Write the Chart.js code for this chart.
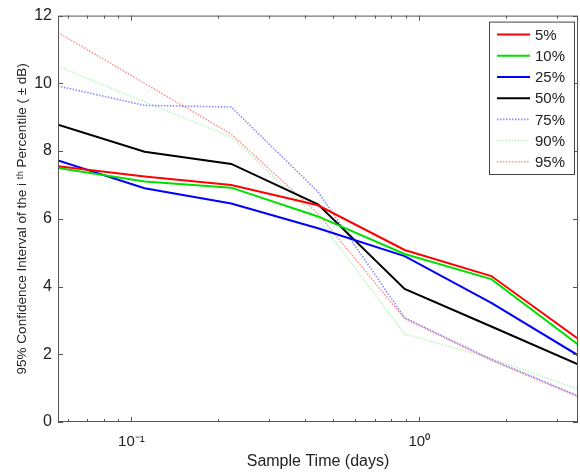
<!DOCTYPE html>
<html>
<head>
<meta charset="utf-8">
<script src="https://cdn.jsdelivr.net/npm/chart.js@4.4.0/dist/chart.umd.min.js"></script>
<style>
  html, body { margin: 0; padding: 0; background: #fff; }
</style>
</head>
<body>
<canvas id="myChart" width="580" height="474"></canvas>
<script>
// sample times in days (1/18 day doubling)
const sampleTimes = [0.0556, 0.1111, 0.2222, 0.4444, 0.8889, 1.7778, 3.5556];

const p5  = [7.55, 7.25, 7.00, 6.40, 5.08, 4.31, 2.46];
const p10 = [7.50, 7.10, 6.92, 6.07, 4.96, 4.22, 2.29];
const p25 = [7.72, 6.90, 6.45, 5.72, 4.90, 3.52, 1.97];
const p50 = [8.78, 7.98, 7.62, 6.43, 3.93, 2.82, 1.70];
const p75 = [9.92, 9.35, 9.30, 6.80, 3.08, 1.85, 0.77];
const p90 = [10.50, 9.45, 8.42, 6.00, 2.60, 1.88, 0.97];
const p95 = [11.50, 10.00, 8.50, 6.15, 3.05, 1.82, 0.75];

const seriesLabels = ['5%', '10%', '25%', '50%', '75%', '90%', '95%'];
const xTickValues = [0.06, 0.07, 0.08, 0.09, 0.1, 0.2, 0.3, 0.4, 0.5, 0.6, 0.7, 0.8, 0.9, 1, 2, 3];
const yTickValues = [0, 2, 4, 6, 8, 10, 12];

const font = "'Liberation Sans', Arial, Helvetica, sans-serif";

function pts(arr) {
  return arr.map((v, i) => ({ x: sampleTimes[i], y: v }));
}

function solid(label, arr, color) {
  return { label: label, data: pts(arr), borderColor: color, borderWidth: 2,
           pointRadius: 0, fill: false, tension: 0 };
}
function dotted(label, arr, color) {
  return { label: label, data: pts(arr), borderColor: color, borderWidth: 1.6,
           borderDash: [1.5, 1.5], pointRadius: 0, fill: false, tension: 0 };
}

const datasets = [
  solid(seriesLabels[0], p5, '#ff0000'),
  solid(seriesLabels[1], p10, '#00e000'),
  solid(seriesLabels[2], p25, '#0000ff'),
  solid(seriesLabels[3], p50, '#000000'),
  dotted(seriesLabels[4], p75, 'rgba(60,60,255,0.6)'),
  dotted(seriesLabels[5], p90, 'rgba(60,230,60,0.35)'),
  dotted(seriesLabels[6], p95, 'rgba(255,60,60,0.55)')
];

// box around the axes with inward ticks, matlab style
const frame = {
  id: 'frame',
  afterDatasetsDraw(chart) {
    const ctx = chart.ctx;
    const a = chart.chartArea;
    const xs = chart.scales.x, ys = chart.scales.y;
    ctx.save();
    ctx.strokeStyle = '#555';
    ctx.lineWidth = 1;
    ctx.strokeRect(a.left + 0.5, a.top + 0.5, a.right - a.left - 1, a.bottom - a.top - 1);
    ctx.beginPath();
    xs.ticks.forEach(t => {
      const px = Math.round(xs.getPixelForValue(t.value)) + 0.5;
      const major = Math.abs(Math.log10(t.value) - Math.round(Math.log10(t.value))) < 1e-6;
      const len = major ? 5 : 3;
      ctx.moveTo(px, a.bottom); ctx.lineTo(px, a.bottom - len);
      ctx.moveTo(px, a.top); ctx.lineTo(px, a.top + len);
    });
    ys.ticks.forEach(t => {
      const py = Math.round(ys.getPixelForValue(t.value)) + 0.5;
      ctx.moveTo(a.left, py); ctx.lineTo(a.left + 5, py);
      ctx.moveTo(a.right, py); ctx.lineTo(a.right - 5, py);
    });
    ctx.stroke();
    ctx.restore();
  },
  afterDraw(chart) {
    const ctx = chart.ctx;
    const a = chart.chartArea;
    const w = 85, rowH = 21.2;
    const boxL = a.right - 89, boxT = a.top + 6;
    const h = rowH * chart.data.datasets.length + 4;
    ctx.save();
    ctx.fillStyle = '#fff';
    ctx.fillRect(boxL, boxT, w, h);
    ctx.strokeStyle = '#444';
    ctx.lineWidth = 1;
    ctx.strokeRect(boxL + 0.5, boxT + 0.5, w, h);
    ctx.font = '15px ' + font;
    ctx.textBaseline = 'middle';
    chart.data.datasets.forEach((ds, i) => {
      const y = boxT + 13 + i * rowH;
      ctx.beginPath();
      ctx.strokeStyle = ds.borderColor;
      ctx.lineWidth = ds.borderWidth;
      ctx.setLineDash(ds.borderDash || []);
      ctx.moveTo(boxL + 8, y);
      ctx.lineTo(boxL + 41, y);
      ctx.stroke();
      ctx.setLineDash([]);
      ctx.fillStyle = '#222';
      ctx.fillText(ds.label, boxL + 46, y + 1);
    });
    ctx.restore();
  }
};

const config = {
  type: 'line',
  data: { datasets: datasets },
  options: {
    responsive: false,
    animation: false,
    layout: { padding: { top: 13, right: 2, left: 0, bottom: 0 } },
    plugins: { legend: { display: false }, tooltip: { enabled: false } },
    scales: {
      x: {
        type: 'logarithmic',
        min: sampleTimes[0],
        max: sampleTimes[sampleTimes.length - 1],
        afterBuildTicks: s => { s.ticks = xTickValues.map(v => ({ value: v })); },
        afterFit: s => { s.height = 52; },
        grid: { display: false, drawTicks: false },
        border: { display: false },
        ticks: {
          autoSkip: false, maxRotation: 0, padding: 11,
          color: '#222', font: { family: font, size: 15 },
          callback: v => (v === 0.1 ? '10\u207B\u00B9' : (v === 1 ? '10\u2070' : ''))
        },
        title: {
          display: true, text: 'Sample Time (days)', color: '#222',
          font: { family: font, size: 16 }, padding: { top: 0, bottom: 3 }
        }
      },
      y: {
        min: 0, max: 12,
        afterBuildTicks: s => { s.ticks = yTickValues.map(v => ({ value: v })); },
        afterFit: s => { s.width = 58; },
        grid: { display: false, drawTicks: false },
        border: { display: false },
        ticks: { padding: 6, color: '#222', font: { family: font, size: 16 } },
        title: {
          display: true, text: '95% Confidence Interval of the i \u1D57\u02B0 Percentile ( \u00B1 dB)',
          color: '#222', font: { family: font, size: 13.5 }, padding: { top: 14, bottom: 0 }
        }
      }
    }
  },
  plugins: [frame]
};

const myChart = new Chart(document.getElementById('myChart'), config);
</script>
</body>
</html>
